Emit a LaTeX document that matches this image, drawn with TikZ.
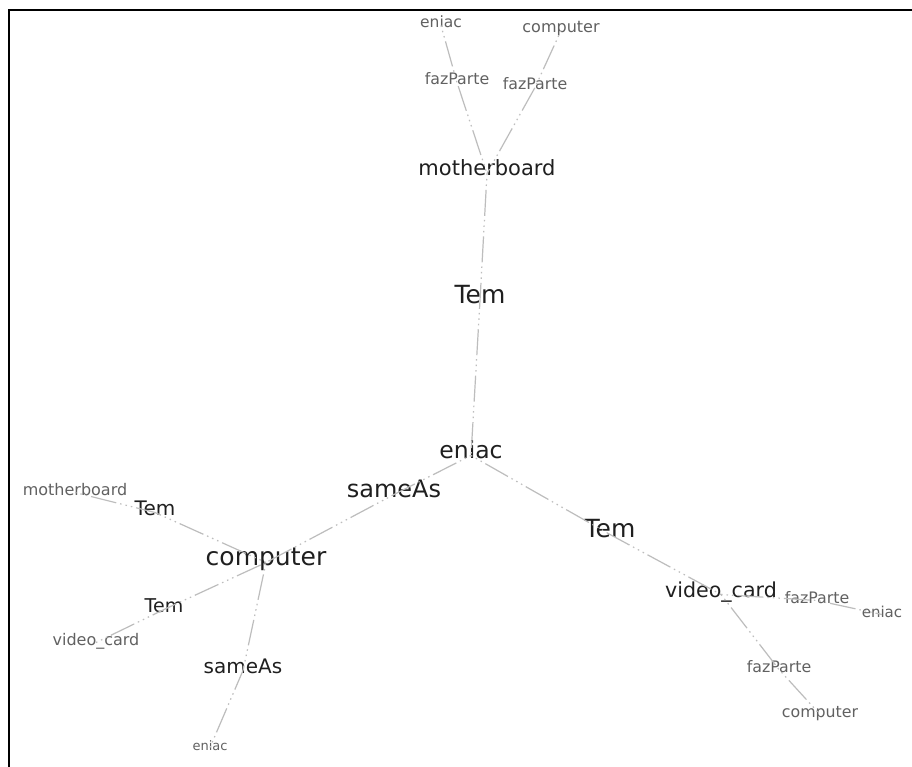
\documentclass[tikz,border=0pt]{standalone}
\usepackage{fontspec}
\setmainfont{DejaVu Sans}
\begin{document}
\begin{tikzpicture}[x=1pt,y=-1pt,
  lbl/.style={anchor=base,inner sep=0pt,text height=0.75em,text depth=0.25em},
  fs/.style={font=\fontsize{#1}{#1}\selectfont},
  dark/.style={lbl,text=black!88},
  light/.style={lbl,text=black!62},
  edge/.style={draw=black!26,line width=1.2pt,
    dash pattern=on 1.5pt off 4pt on 1.5pt off 4pt on 1.5pt off 4pt on 26pt off 4pt}]
  \useasboundingbox (0,0) rectangle (912,767);
  \fill[white] (0,0) rectangle (912,767);
  % frame on the top and left sides
  \draw[line width=2.4pt] (9,767) -- (9,10) -- (912,10);

  % upper branch
  \node[light,fs=15.5] (eT)   at (441,28)  {eniac};
  \node[light,fs=16]   (cT)   at (561,33)  {computer};
  \node[light,fs=15.8] (fL)   at (457,85)  {fazParte};
  \node[light,fs=15.8] (fR)   at (535,90)  {fazParte};
  \node[dark,fs=21]    (mb)   at (487,176) {motherboard};
  \node[dark,fs=25]    (tem1) at (480,303) {Tem};
  \node[dark,fs=23.5]  (en)   at (471,458) {eniac};

  % left branch
  \node[dark,fs=24]    (sa)   at (394,497) {sameAs};
  \node[dark,fs=25]    (co)   at (266,565) {computer};
  \node[dark,fs=20]    (temA) at (155,515) {Tem};
  \node[light,fs=16]   (mbL)  at (75,495)  {motherboard};
  \node[dark,fs=19]    (temB) at (164,612) {Tem};
  \node[light,fs=16]   (vcL)  at (96,645)  {video\_card};
  \node[dark,fs=20]    (saB)  at (243,673) {sameAs};
  \node[light,fs=13]   (eB)   at (210,750) {eniac};

  % right branch
  \node[dark,fs=25]    (temR) at (610,537) {Tem};
  \node[dark,fs=20.6]  (vcR)  at (721,597) {video\_card};
  \node[light,fs=15.8] (fRT)  at (817,603) {fazParte};
  \node[light,fs=15]   (eFR)  at (882,617) {eniac};
  \node[light,fs=15.8] (fBR)  at (779,672) {fazParte};
  \node[light,fs=15.8] (cBR)  at (820,717) {computer};

  % connectors, each running through its predicate label
  \draw[edge] (eT.center) -- (fL.center) -- (mb.center);
  \draw[edge] (cT.center) -- (fR.center) -- (mb.center);
  \draw[edge] (mb.center) -- (tem1.center) -- (en.center);
  \draw[edge] (en.center) -- (sa.center) -- (co.center);
  \draw[edge] (en.center) -- (temR.center) -- (vcR.center);
  \draw[edge] (mbL.center) -- (temA.center) -- (co.center);
  \draw[edge] (vcL.center) -- (temB.center) -- (co.center);
  \draw[edge] (eB.center) -- (saB.center) -- (co.center);
  \draw[edge] (vcR.center) -- (fRT.center) -- (eFR.center);
  \draw[edge] (vcR.center) -- (fBR.center) -- (cBR.center);
\end{tikzpicture}
\end{document}
